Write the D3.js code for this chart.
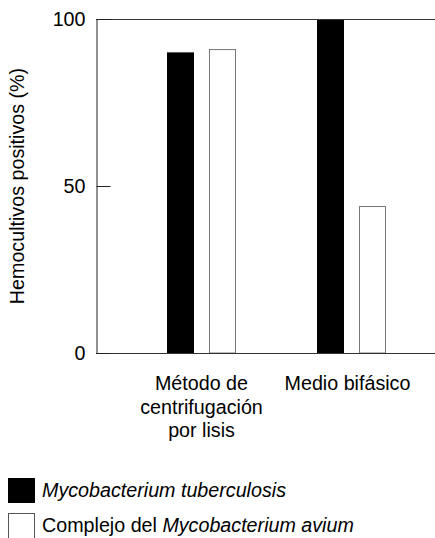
<!DOCTYPE html>
<html>
<head>
<meta charset="utf-8">
<script src="https://cdn.jsdelivr.net/npm/d3@7"></script>
<style>
  html, body { margin: 0; padding: 0; background: #fff; }
  svg { display: block; font-family: "Liberation Sans", Arial, Helvetica, sans-serif; }
</style>
</head>
<body>
<svg id="chart" width="435" height="538"></svg>
<script>
const categories = ["Método de centrifugación por lisis", "Medio bifásico"];
const categoryLines = [["Método de", "centrifugación", "por lisis"], ["Medio bifásico"]];
const series = ["Mycobacterium tuberculosis", "Complejo del Mycobacterium avium"];
const tuberculosisValues = [90, 100];
const aviumValues = [91, 44];
const yTicks = [0, 50, 100];
const yTitle = "Hemocultivos positivos (%)";

(function () {
const svg = d3.select("#chart");
const plotLeft = 96, plotRight = 435, plotTop = 19, plotBottom = 353;
const FS = 19.7;

const y = d3.scaleLinear().domain([0, 100]).range([plotBottom, plotTop]);
const x0 = d3.scaleBand().domain(categories).range([126.5, 426.5]);
const x1 = d3.scaleBand().domain(series).range([-34.5, 34.5]).paddingInner(15 / 42);
const fills = { [series[0]]: "#000", [series[1]]: "#fff" };
const strokes = { [series[0]]: "#000", [series[1]]: "#777" };

const rows = categories.map((c, i) => ({ cat: c, vals: [
  { s: series[0], v: tuberculosisValues[i] },
  { s: series[1], v: aviumValues[i] }
]}));

const g = svg.append("g");
rows.forEach(r => {
  const cx = x0(r.cat) + x0.bandwidth() / 2;
  g.selectAll(null).data(r.vals).enter().append("rect")
    .attr("x", d => cx + x1(d.s) + 0.5)
    .attr("y", d => y(d.v) + 0.5)
    .attr("width", x1.bandwidth() - 1)
    .attr("height", d => y(0) - y(d.v) - 0.5)
    .attr("fill", d => fills[d.s])
    .attr("stroke", d => strokes[d.s])
    .attr("stroke-width", 1);
});

svg.append("line").attr("x1", plotLeft).attr("x2", plotRight).attr("y1", y(100) + 0.5).attr("y2", y(100) + 0.5)
  .attr("stroke", "#333").attr("stroke-width", 1);
svg.append("line").attr("x1", plotLeft).attr("x2", plotRight).attr("y1", y(0) + 0.5).attr("y2", y(0) + 0.5)
  .attr("stroke", "#333").attr("stroke-width", 1);

const yAxis = d3.axisLeft(y).tickValues(yTicks).tickSize(-14).tickPadding(11).tickFormat(d3.format("d"));
const ya = svg.append("g").attr("transform", `translate(${plotLeft + 0.5},0)`).call(yAxis);
ya.select(".domain").attr("stroke", "#222");
ya.selectAll(".tick line").attr("stroke", "#222");
ya.selectAll(".tick text").attr("font-size", FS).attr("fill", "#000")
  .attr("font-family", "'Liberation Sans', Arial, sans-serif");

svg.append("text")
  .attr("transform", `translate(23.5,${(plotTop + plotBottom) / 2}) rotate(-90)`)
  .attr("text-anchor", "middle")
  .attr("font-size", FS)
  .text(yTitle);

categories.forEach((c, i) => {
  const t = svg.append("text")
    .attr("text-anchor", "middle")
    .attr("font-size", FS)
    .attr("y", 390);
  const cx = x0(c) + x0.bandwidth() / 2 - (i === 1 ? 4 : 0);
  categoryLines[i].forEach((line, j) => {
    t.append("tspan").attr("x", cx).attr("dy", j === 0 ? 0 : 23.5).text(line);
  });
});

const lg = svg.append("g");
lg.append("rect").attr("x", 8.5).attr("y", 478.5).attr("width", 26).attr("height", 24)
  .attr("fill", "#000").attr("stroke", "#000");
lg.append("text").attr("x", 42).attr("y", 497).attr("font-size", FS).attr("font-style", "italic")
  .text(series[0]);
lg.append("rect").attr("x", 8.5).attr("y", 513.5).attr("width", 26).attr("height", 26)
  .attr("fill", "#fff").attr("stroke", "#555");
const t2 = lg.append("text").attr("x", 42).attr("y", 532).attr("font-size", FS);
t2.append("tspan").text("Complejo del ");
t2.append("tspan").attr("font-style", "italic").text("Mycobacterium avium");
})();
</script>
</body>
</html>
